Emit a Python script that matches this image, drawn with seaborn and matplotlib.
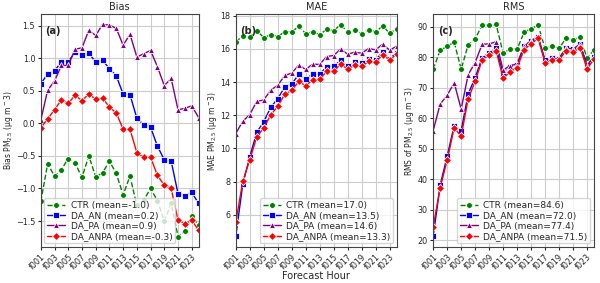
import numpy as np
import pandas as pd
import matplotlib
matplotlib.use("Agg")
import matplotlib.pyplot as plt
import seaborn as sns

hours = ["f%03d" % h for h in range(1, 25)]
experiments = ["CTR", "DA_AN", "DA_PA", "DA_ANPA"]

bias_ctr = [-1.20, -0.62, -0.81, -0.71, -0.54, -0.61, -0.83, -0.50, -0.82, -0.76, -0.58, -0.77,
            -1.10, -0.81, -1.26, -1.18, -1.00, -1.19, -1.50, -1.23, -1.74, -1.66, -1.43, -1.56]
bias_an = [0.61, 0.76, 0.81, 0.94, 0.95, 1.09, 1.05, 1.08, 0.94, 0.97, 0.84, 0.73,
           0.45, 0.44, 0.08, -0.02, -0.06, -0.35, -0.56, -0.58, -1.08, -1.11, -1.06, -1.23]
bias_pa = [0.05, 0.51, 0.65, 0.89, 0.89, 1.14, 1.16, 1.43, 1.35, 1.52, 1.51, 1.46,
           1.20, 1.37, 1.02, 1.07, 1.12, 0.87, 0.58, 0.69, 0.21, 0.23, 0.27, 0.09]
bias_anpa = [-0.07, 0.07, 0.21, 0.36, 0.31, 0.43, 0.35, 0.45, 0.37, 0.39, 0.25, 0.16,
             -0.09, -0.09, -0.45, -0.52, -0.52, -0.80, -0.95, -1.00, -1.49, -1.54, -1.49, -1.64]

mae_ctr = [16.42, 16.78, 16.74, 17.10, 16.68, 16.84, 16.74, 17.04, 17.02, 17.36, 16.92, 17.02,
           16.86, 17.18, 17.10, 17.46, 17.00, 17.12, 16.92, 17.16, 17.02, 17.38, 16.94, 17.20]
mae_an = [4.72, 7.86, 9.50, 10.98, 11.60, 12.48, 13.00, 13.70, 13.88, 14.46, 14.18, 14.48,
          14.48, 14.92, 14.94, 15.32, 14.94, 15.18, 15.12, 15.38, 15.34, 15.80, 15.40, 15.78]
mae_pa = [10.90, 11.64, 12.04, 12.84, 12.92, 13.52, 13.80, 14.40, 14.54, 15.02, 14.76, 15.08,
          15.06, 15.54, 15.60, 16.00, 15.68, 15.80, 15.74, 16.02, 15.94, 16.28, 15.92, 16.16]
mae_anpa = [5.58, 8.02, 9.32, 10.70, 11.24, 12.02, 12.54, 13.26, 13.50, 14.04, 13.78, 14.14,
            14.18, 14.64, 14.66, 15.08, 14.78, 15.02, 14.96, 15.24, 15.20, 15.64, 15.34, 15.68]

rms_ctr = [76.0, 82.2, 83.5, 84.9, 76.0, 84.0, 85.9, 90.5, 90.4, 90.7, 81.3, 82.6,
           82.6, 88.1, 89.3, 90.5, 82.8, 83.6, 82.8, 86.2, 85.6, 86.6, 79.7, 82.3]
rms_an = [21.2, 38.0, 47.5, 57.5, 55.8, 67.9, 73.2, 79.8, 81.4, 82.9, 74.6, 76.6,
          77.5, 83.7, 85.2, 86.6, 79.0, 79.8, 79.5, 83.0, 82.6, 84.2, 77.3, 80.1]
rms_pa = [55.9, 64.6, 67.4, 71.6, 62.9, 74.2, 78.2, 84.2, 84.3, 85.0, 75.7, 77.2,
          77.7, 83.5, 85.4, 86.7, 78.5, 79.4, 79.4, 83.0, 82.6, 84.2, 77.2, 80.1]
rms_anpa = [24.4, 37.2, 46.2, 56.8, 54.0, 66.3, 72.0, 79.1, 80.7, 82.0, 73.0, 75.2,
            76.5, 82.4, 84.4, 86.1, 78.2, 79.1, 79.0, 82.1, 81.6, 83.1, 76.2, 79.2]

bias_means = ["-1.0", "0.2", "0.9", "-0.3"]
mae_means = ["17.0", "13.5", "14.6", "13.3"]
rms_means = ["84.6", "72.0", "77.4", "71.5"]

panels = [
    ("Bias", "(a)", "Bias PM$_{2.5}$ (\u03bcg m$^-$3)", [bias_ctr, bias_an, bias_pa, bias_anpa],
     bias_means, (-1.9, 1.68), [-1.5, -1.0, -0.5, 0.0, 0.5, 1.0, 1.5], "lower left"),
    ("MAE", "(b)", "MAE PM$_{2.5}$ (\u03bcg m$^-$3)", [mae_ctr, mae_an, mae_pa, mae_anpa],
     mae_means, (4.06, 18.1), [6, 8, 10, 12, 14, 16, 18], "lower right"),
    ("RMS", "(c)", "RMS of PM$_{2.5}$ (\u03bcg m$^-$3)", [rms_ctr, rms_an, rms_pa, rms_anpa],
     rms_means, (17.7, 94.1), [20, 30, 40, 50, 60, 70, 80, 90], "lower right"),
]

colors = ["green", "blue", "purple", "red"]
markers = ["o", "s", "^", "D"]
styles = ["--", "-", "-", "-"]

sns.set_style("ticks")
plt.rcParams["font.family"] = ["DejaVu Sans"]

fig = plt.figure(figsize=(6.0, 2.83), dpi=100)
boxes = [(0.068, 0.263), (0.393, 0.268), (0.722, 0.268)]
x = np.arange(len(hours))

for i, (title, tag, ylabel, series, means, ylim, yticks, loc) in enumerate(panels):
    ax = fig.add_axes([boxes[i][0], 0.127, boxes[i][1], 0.8235])
    for name, vals, c, m, ls, mn in zip(experiments, series, colors, markers, styles, means):
        df = pd.DataFrame({"x": x, "y": vals})
        sns.lineplot(data=df, x="x", y="y", ax=ax, color=c, marker=m, linestyle=ls,
                     markersize=4.2, markeredgewidth=0.6, linewidth=1.0,
                     label=f"{name} (mean={mn})")
    ax.set_xlim(0, len(hours) - 1)
    ax.set_ylim(*ylim)
    ax.set_yticks(yticks)
    ax.set_xticks(x[::2])
    ax.set_xticklabels(hours[::2], rotation=45, ha="right", rotation_mode="anchor")
    ax.tick_params(labelsize=5.8, length=2.5, width=0.8, pad=1.5)
    ax.tick_params(axis="x", pad=1)
    ax.grid(True, color="#cccccc", linewidth=0.8)
    ax.set_axisbelow(True)
    for sp in ax.spines.values():
        sp.set_color("#444444")
        sp.set_linewidth(0.8)
    ax.set_title(title, fontsize=7, pad=3)
    ax.set_ylabel(ylabel, fontsize=5.5, labelpad=1)
    if i == 0:
        ax.yaxis.set_label_coords(-0.165, 0.5)
    ax.set_xlabel("Forecast Hour" if i == 1 else "", fontsize=7, labelpad=0)
    ax.text(0.03, 0.95, tag, transform=ax.transAxes, fontsize=7, fontweight="bold",
            va="top", ha="left")
    ax.legend(loc=loc, fontsize=6.5, framealpha=0.8, borderpad=0.3, labelspacing=0.15,
              handlelength=2.0, handletextpad=0.6, borderaxespad=0.4)

fig.savefig("out.png", dpi=100)
